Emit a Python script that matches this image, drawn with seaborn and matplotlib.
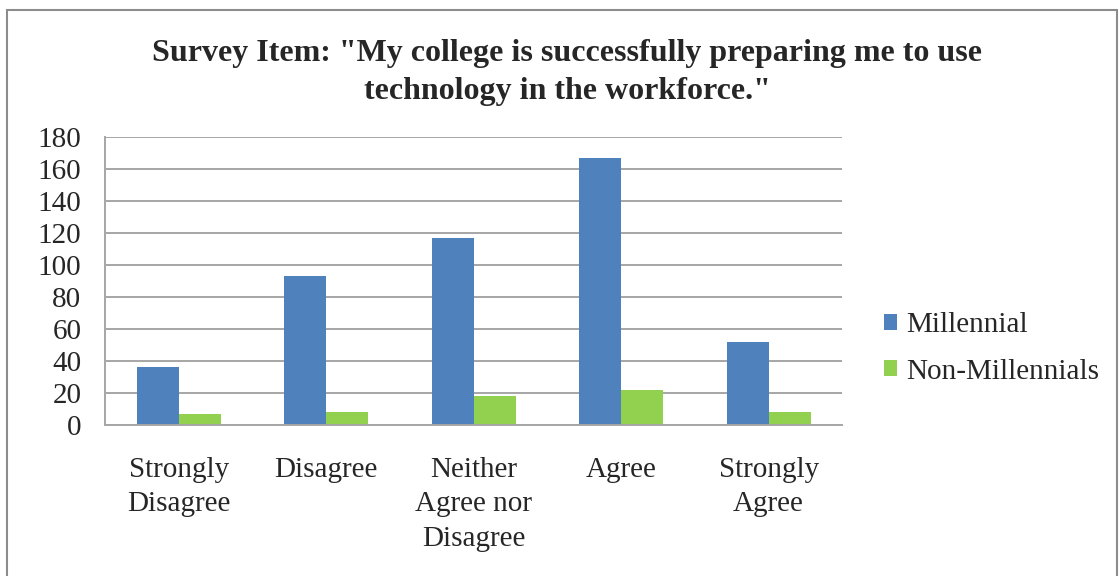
import numpy as np
import pandas as pd
import matplotlib
matplotlib.use("Agg")
import matplotlib.pyplot as plt
from matplotlib.patches import Rectangle
import seaborn as sns

categories = ["Strongly\nDisagree", "Disagree", "Neither\nAgree nor\nDisagree", "Agree", "Strongly\nAgree"]
millennial = [36, 93, 117, 167, 52]
non_millennial = [7, 8, 18, 22, 8]
series_names = ["Millennial", "Non-Millennials"]
yticks = [0, 20, 40, 60, 80, 100, 120, 140, 160, 180]

df = pd.DataFrame({
    "category": categories * 2,
    "group": [series_names[0]] * len(categories) + [series_names[1]] * len(categories),
    "count": millennial + non_millennial,
})

sns.set_style("white")
plt.rcParams['font.family'] = ['Liberation Serif', 'DejaVu Serif']

fig = plt.figure(figsize=(11.19, 5.76), dpi=100)
ax = fig.add_axes([0.0938, 0.2622, 0.659, 0.5])

sns.barplot(data=df, x="category", y="count", hue="group", order=categories,
            hue_order=series_names, palette=["#4F81BD", "#92D050"], saturation=1,
            width=0.57, gap=0, edgecolor="none", ax=ax, legend=True)

ax.set_ylim(0, 180)
ax.set_yticks(yticks)
ax.set_xlim(-0.5, len(categories) - 0.5)
ax.yaxis.grid(True, color="#A6A6A6", linewidth=1.4)
ax.set_axisbelow(True)
for side in ["top", "right"]:
    ax.spines[side].set_visible(False)
for side in ["left", "bottom"]:
    ax.spines[side].set_color("#A6A6A6")
    ax.spines[side].set_linewidth(1.4)
ax.tick_params(axis="both", length=0, labelsize=21)
ax.tick_params(axis="x", pad=23)
ax.tick_params(axis="y", pad=17)
for lbl in ax.get_xticklabels():
    lbl.set_linespacing(1.42)
ax.set_xlabel("")
ax.set_ylabel("")

ax.legend(loc="center left", bbox_to_anchor=(0.7666, 0.395), bbox_transform=fig.transFigure,
          frameon=False, fontsize=21, handlelength=0.45, handleheight=0.45,
          handletextpad=0.3, labelspacing=0.7)

fig.suptitle('Survey Item: "My college is successfully preparing me to use\ntechnology in the workforce."',
             x=0.507, y=0.932, fontsize=23, fontweight="bold", linespacing=1.42)

fig.patches.append(Rectangle((7 / 1119, -0.05), 1110 / 1119, 1 - 10 / 576 + 0.05,
                             transform=fig.transFigure, fill=False,
                             edgecolor="#8C8C8C", linewidth=1.5))

fig.savefig("out.png", dpi=100)
